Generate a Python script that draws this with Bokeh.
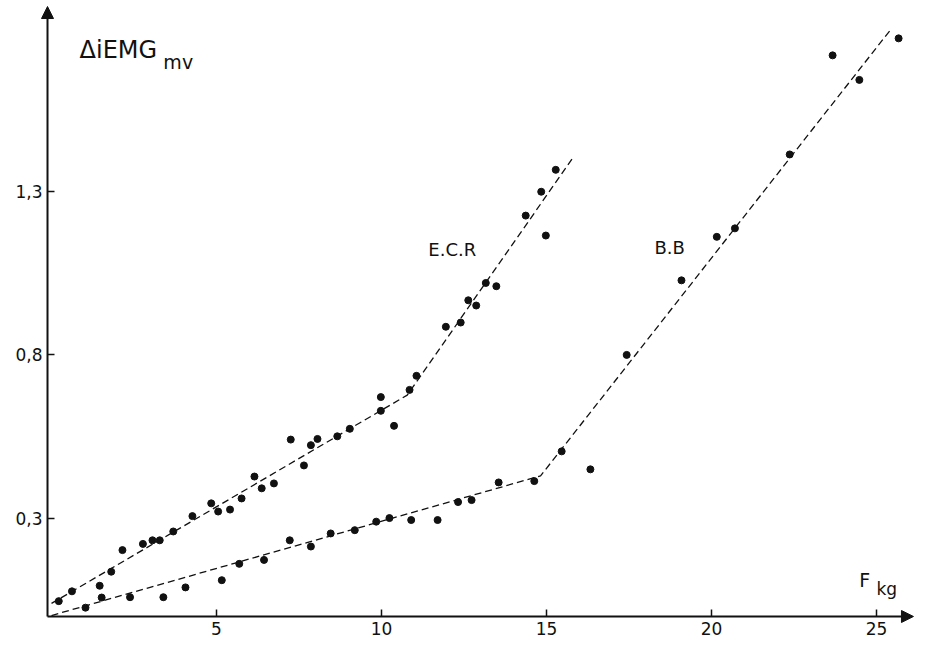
from bokeh.plotting import figure
from bokeh.models import Range1d, FixedTicker, Arrow, NormalHead, Label
from bokeh.embed import file_html
from bokeh.resources import INLINE

# ---- data ----
ecr_x = [0.22, 0.62, 1.46, 1.81, 2.15, 2.77, 3.06, 3.28, 3.69, 4.27, 4.84, 5.05, 5.41,
         5.76, 6.15, 6.37, 6.74, 7.25, 7.65, 7.86, 8.06, 8.66, 9.04, 9.98, 9.98, 10.38,
         10.85, 11.06, 11.95, 12.40, 12.63, 12.87, 13.16, 13.48, 14.37, 14.84, 14.98, 15.28]
ecr_y = [0.047, 0.077, 0.094, 0.137, 0.203, 0.222, 0.233, 0.233, 0.260, 0.307, 0.346, 0.321, 0.327,
         0.361, 0.428, 0.392, 0.407, 0.541, 0.462, 0.524, 0.543, 0.551, 0.574, 0.671, 0.629, 0.583,
         0.693, 0.736, 0.886, 0.899, 0.967, 0.951, 1.020, 1.010, 1.226, 1.299, 1.165, 1.366]

bb_x = [1.03, 1.52, 2.38, 3.39, 4.06, 5.16, 5.69, 6.44, 7.22, 7.86, 8.46, 9.19, 9.84, 10.24,
        10.90, 11.70, 12.32, 12.73, 13.55, 14.63, 15.46, 16.33, 17.43, 19.09, 20.16, 20.71,
        22.37, 23.67, 24.48, 25.67]
bb_y = [0.027, 0.058, 0.059, 0.059, 0.089, 0.111, 0.161, 0.173, 0.233, 0.214, 0.254, 0.264, 0.290, 0.301,
        0.295, 0.295, 0.350, 0.356, 0.410, 0.414, 0.505, 0.450, 0.800, 1.028, 1.161, 1.187,
        1.413, 1.716, 1.641, 1.768]

# fitted broken lines (dashed)
ecr_fit_x = [0.0, 10.78, 15.78]
ecr_fit_y = [0.040, 0.677, 1.400]
bb_fit_x = [0.0, 14.82, 25.47]
bb_fit_y = [0.003, 0.430, 1.800]

x_ticks = [5, 10, 15, 20, 25]
x_tick_labels = ["5", "10", "15", "20", "25"]
y_ticks = [0.3, 0.8, 1.3]
y_tick_labels = ["0,3", "0,8", "1,3"]

curve_names = ["E.C.R", "B.B"]
curve_label_x = [11.42, 18.27]
curve_label_y = [1.122, 1.128]

y_title = "ΔiEMG"
y_title_sub = "mv"
x_title = "F"
x_title_sub = "kg"

FONT = "DejaVu Sans"
INK = "#111111"

# axes geometry (data units); the frame fills the whole canvas
X_AXIS_AT = -0.121      # x position of the vertical axis
X0, X1 = -1.5455, 26.212
Y0, Y1 = -0.0734, 1.8838
X_TIP = 26.12
Y_TIP = 1.8654

p = figure(width=916, height=640, output_backend="svg", toolbar_location=None,
           x_range=Range1d(X0, X1), y_range=Range1d(Y0, Y1),
           min_border_left=0, min_border_bottom=0, min_border_top=0, min_border_right=0)
p.title.visible = False
p.outline_line_color = None
p.grid.visible = False
p.background_fill_color = "white"
p.border_fill_color = "white"

for ax in (p.xaxis[0], p.yaxis[0]):
    ax.axis_line_color = None
    ax.major_tick_in = 7
    ax.major_tick_out = 0
    ax.major_tick_line_width = 1.5
    ax.major_tick_line_color = INK
    ax.minor_tick_line_color = None
    ax.major_label_text_font = FONT
    ax.major_label_text_font_size = "17px"
    ax.major_label_text_color = INK

p.xaxis[0].fixed_location = 0
p.xaxis[0].ticker = FixedTicker(ticks=x_ticks)
p.xaxis[0].major_label_overrides = dict(zip(x_ticks, x_tick_labels))
p.xaxis[0].major_label_standoff = 6
p.yaxis[0].fixed_location = X_AXIS_AT
p.yaxis[0].ticker = FixedTicker(ticks=y_ticks)
p.yaxis[0].major_label_overrides = dict(zip(y_ticks, y_tick_labels))
p.yaxis[0].major_label_standoff = 5

# axis lines with arrow heads
p.add_layout(Arrow(end=NormalHead(size=12, fill_color=INK, line_color=INK, line_width=1),
                   x_start=X_AXIS_AT, y_start=0, x_end=X_TIP, y_end=0,
                   line_color=INK, line_width=2))
p.add_layout(Arrow(end=NormalHead(size=12, fill_color=INK, line_color=INK, line_width=1),
                   x_start=X_AXIS_AT, y_start=0, x_end=X_AXIS_AT, y_end=Y_TIP,
                   line_color=INK, line_width=2))

# dashed fitted lines
p.line(ecr_fit_x, ecr_fit_y, line_color=INK, line_width=1.3, line_dash="7 4")
p.line(bb_fit_x, bb_fit_y, line_color=INK, line_width=1.3, line_dash="7 4")

# data points
p.scatter(ecr_x, ecr_y, size=7, color=INK)
p.scatter(bb_x, bb_y, size=7, color=INK)

# curve names
for name, lx, ly in zip(curve_names, curve_label_x, curve_label_y):
    p.add_layout(Label(x=lx, y=ly, text=name, text_font=FONT, text_font_size="18px",
                       text_color=INK, text_baseline="middle", text_align="left"))

# axis titles with subscripts
p.add_layout(Label(x=0.85, y=1.733, text=y_title, text_font=FONT, text_font_size="24px",
                   text_color=INK, text_baseline="middle", text_align="left"))
p.add_layout(Label(x=3.39, y=1.697, text=y_title_sub, text_font=FONT, text_font_size="19px",
                   text_color=INK, text_baseline="middle", text_align="left"))
p.add_layout(Label(x=24.48, y=0.111, text=x_title, text_font=FONT, text_font_size="19px",
                   text_color=INK, text_baseline="middle", text_align="left"))
p.add_layout(Label(x=25.0, y=0.085, text=x_title_sub, text_font=FONT, text_font_size="17px",
                   text_color=INK, text_baseline="middle", text_align="left"))

open("out.html", "w").write(file_html(p, INLINE))
